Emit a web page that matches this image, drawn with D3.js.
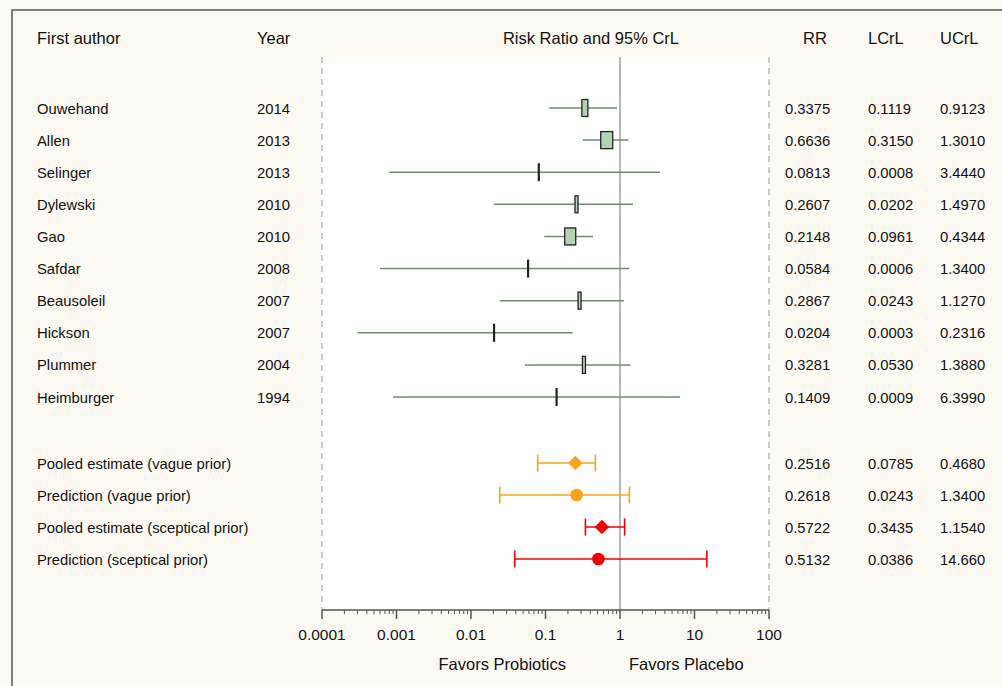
<!DOCTYPE html>
<html><head><meta charset="utf-8">
<script src="https://cdn.jsdelivr.net/npm/d3@7"></script>
<style>body{margin:0;background:#fcf9f3;} text{font-family:"Liberation Sans",Arial,sans-serif;}</style>
</head><body>
<svg id="c" width="1002" height="686"></svg>
<script>
const authors = ["Ouwehand","Allen","Selinger","Dylewski","Gao","Safdar","Beausoleil","Hickson","Plummer","Heimburger"];
const years = ["2014","2013","2013","2010","2010","2008","2007","2007","2004","1994"];
const rr  = [0.3375,0.6636,0.0813,0.2607,0.2148,0.0584,0.2867,0.0204,0.3281,0.1409];
const lcl = [0.1119,0.3150,0.0008,0.0202,0.0961,0.0006,0.0243,0.0003,0.0530,0.0009];
const ucl = [0.9123,1.3010,3.4440,1.4970,0.4344,1.3400,1.1270,0.2316,1.3880,6.3990];
const rrText  = ["0.3375","0.6636","0.0813","0.2607","0.2148","0.0584","0.2867","0.0204","0.3281","0.1409"];
const lclText = ["0.1119","0.3150","0.0008","0.0202","0.0961","0.0006","0.0243","0.0003","0.0530","0.0009"];
const uclText = ["0.9123","1.3010","3.4440","1.4970","0.4344","1.3400","1.1270","0.2316","1.3880","6.3990"];
const weights = [6,12,2,3,11,2,3,2,3,2]; // box widths (relative weight)

const pooledLabels = ["Pooled estimate (vague prior)","Prediction (vague prior)","Pooled estimate (sceptical prior)","Prediction (sceptical prior)"];
const pooledRR  = [0.2516,0.2618,0.5722,0.5132];
const pooledL   = [0.0785,0.0243,0.3435,0.0386];
const pooledU   = [0.4680,1.3400,1.1540,14.660];
const pooledRRText = ["0.2516","0.2618","0.5722","0.5132"];
const pooledLText  = ["0.0785","0.0243","0.3435","0.0386"];
const pooledUText  = ["0.4680","1.3400","1.1540","14.660"];
const pooledShape = ["diamond","circle","diamond","circle"];
const pooledColor = ["#f7a51c","#f7a51c","#f00000","#f00000"];

const tickVals = [0.0001,0.001,0.01,0.1,1,10,100];
const tickLabels = ["0.0001","0.001","0.01","0.1","1","10","100"];

const svg = d3.select("#c");
const x = d3.scaleLog().domain([0.0001,100]).range([322,769]);
const rowY = d3.scaleLinear().domain([0,9]).range([108,397]);
const poolY = d3.scaleLinear().domain([0,3]).range([463,559]);
const plotTop = 57, axisY = 610;

// frame
svg.append("path").attr("d","M12,686 L12,10 L1002,10").attr("fill","none").attr("stroke","#555").attr("stroke-width",1.5);
// plot area
svg.append("rect").attr("x",x(0.0001)).attr("y",plotTop).attr("width",x(100)-x(0.0001)).attr("height",axisY-plotTop).attr("fill","#fff");
[0.0001,100].forEach(v=>svg.append("line").attr("x1",x(v)).attr("x2",x(v)).attr("y1",plotTop).attr("y2",axisY)
  .attr("stroke","#aaa").attr("stroke-dasharray","6,5").attr("stroke-width",1.2));
svg.append("line").attr("x1",x(1)).attr("x2",x(1)).attr("y1",plotTop).attr("y2",axisY).attr("stroke","#a0a0a0").attr("stroke-width",1.5);

// axis
const minor = [];
for (let e=-4;e<2;e++) for (let m=2;m<10;m++) minor.push(m*Math.pow(10,e));
const ax = svg.append("g").attr("transform",`translate(0,${axisY})`);
ax.append("line").attr("x1",x(0.0001)).attr("x2",x(100)).attr("stroke","#555").attr("stroke-width",1.5);
ax.selectAll(".mn").data(minor).join("line").attr("x1",d=>x(d)).attr("x2",d=>x(d)).attr("y1",0).attr("y2",4).attr("stroke","#555");
ax.selectAll(".mj").data(tickVals).join("line").attr("x1",d=>x(d)).attr("x2",d=>x(d)).attr("y1",0).attr("y2",9).attr("stroke","#555").attr("stroke-width",1.5);
ax.selectAll(".tl").data(tickVals).join("text").attr("x",d=>x(d)).attr("y",30).attr("text-anchor","middle")
  .attr("font-size",15.5).attr("fill","#111").text((d,i)=>tickLabels[i]);
svg.append("text").attr("x",x(1)-54).attr("y",670).attr("text-anchor","end").attr("font-size",16.5).attr("fill","#111").text("Favors Probiotics");
svg.append("text").attr("x",x(1)+9).attr("y",670).attr("text-anchor","start").attr("font-size",16.5).attr("fill","#111").text("Favors Placebo");

// headers
const hdr = (t,xx,anchor)=>svg.append("text").attr("x",xx).attr("y",44).attr("font-size",16.5).attr("fill","#111").attr("text-anchor",anchor||"start").text(t);
hdr("First author",37); hdr("Year",257); hdr("Risk Ratio and 95% CrL",591,"middle");
hdr("RR",815,"middle"); hdr("LCrL",868); hdr("UCrL",940);

const txt = (t,xx,yy)=>svg.append("text").attr("x",xx).attr("y",yy+5.5).attr("font-size",14.8).attr("fill","#111").text(t);

// studies
authors.forEach((a,i)=>{
  const y = rowY(i);
  txt(a,37,y); txt(years[i],257,y);
  txt(rrText[i],785,y); txt(lclText[i],868,y); txt(uclText[i],940,y);
  svg.append("line").attr("x1",x(lcl[i])).attr("x2",x(ucl[i])).attr("y1",y).attr("y2",y).attr("stroke","#6d8f6d").attr("stroke-width",1.5);
  const w = weights[i];
  if (w>2) {
    svg.append("rect").attr("x",x(rr[i])-w/2).attr("y",y-8.5).attr("width",w).attr("height",17)
      .attr("fill","#b3d4b3").attr("stroke","#222").attr("stroke-width",1.3);
  } else {
    svg.append("line").attr("x1",x(rr[i])).attr("x2",x(rr[i])).attr("y1",y-9).attr("y2",y+9).attr("stroke","#222").attr("stroke-width",2.2);
  }
});

// pooled
pooledLabels.forEach((l,i)=>{
  const y = poolY(i), c = pooledColor[i];
  txt(l,37,y);
  txt(pooledRRText[i],785,y); txt(pooledLText[i],868,y); txt(pooledUText[i],940,y);
  const g = svg.append("g").attr("stroke",c).attr("stroke-width",1.6);
  g.append("line").attr("x1",x(pooledL[i])).attr("x2",x(pooledU[i])).attr("y1",y).attr("y2",y);
  g.append("line").attr("x1",x(pooledL[i])).attr("x2",x(pooledL[i])).attr("y1",y-8.5).attr("y2",y+8.5);
  g.append("line").attr("x1",x(pooledU[i])).attr("x2",x(pooledU[i])).attr("y1",y-8.5).attr("y2",y+8.5);
  if (pooledShape[i]==="diamond") {
    svg.append("path").attr("d",d3.symbol(d3.symbolSquare,104)()).attr("transform",`translate(${x(pooledRR[i])},${y}) rotate(45)`).attr("fill",c);
  } else {
    svg.append("path").attr("d",d3.symbol(d3.symbolCircle,125)()).attr("transform",`translate(${x(pooledRR[i])},${y})`).attr("fill",c);
  }
});
</script>
</body></html>
